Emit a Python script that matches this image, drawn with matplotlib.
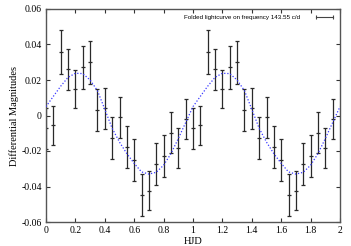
import numpy as np
import matplotlib
matplotlib.use("Agg")
import matplotlib.pyplot as plt
from matplotlib.lines import Line2D

# Folded phase (one cycle, shown twice)
phase = [0.00, 0.05, 0.10, 0.15, 0.20, 0.25, 0.30, 0.35, 0.40, 0.45,
         0.50, 0.55, 0.60, 0.65, 0.70, 0.75, 0.80, 0.85, 0.90, 0.95]
mag = [-0.0072, -0.0055, 0.0356, 0.0260, 0.0148, 0.0271, 0.0301, 0.0031, 0.0040, -0.0128,
       -0.0010, -0.0177, -0.0251, -0.0448, -0.0423, -0.0273, -0.0228, -0.0097, -0.0181, -0.0021]
err = [0.0116, 0.0109, 0.0124, 0.0115, 0.0107, 0.0120, 0.0121, 0.0119, 0.0116, 0.0118,
       0.0117, 0.0120, 0.0116, 0.0120, 0.0111, 0.0120, 0.0117, 0.0114, 0.0113, 0.0113]

# Fitted curve (one cycle)
fit_phase = [0.00, 0.05, 0.10, 0.15, 0.20, 0.25, 0.30, 0.35, 0.40, 0.45, 0.50,
             0.55, 0.60, 0.65, 0.70, 0.75, 0.80, 0.85, 0.90, 0.95, 1.00]
fit_mag = [0.0050, 0.0108, 0.0165, 0.0215, 0.0238, 0.0236, 0.0200, 0.0140, 0.0035, -0.0072, -0.0150,
           -0.0215, -0.0270, -0.0318, -0.0330, -0.0320, -0.0280, -0.0215, -0.0130, -0.0040, 0.0050]

xticks = [0, 0.2, 0.4, 0.6, 0.8, 1.0, 1.2, 1.4, 1.6, 1.8, 2.0]
xticklabels = ["0", "0.2", "0.4", "0.6", "0.8", "1", "1.2", "1.4", "1.6", "1.8", "2"]
yticks = [-0.06, -0.04, -0.02, 0, 0.02, 0.04, 0.06]
yticklabels = ["-0.06", "-0.04", "-0.02", "0", "0.02", "0.04", "0.06"]

legend_label = "Folded lightcurve on frequency 143.55 c/d"

fig = plt.figure(figsize=(3.51, 2.46), dpi=100)
ax = fig.add_axes([46/351, 1-222/246, (340-46)/351, (222-9)/246])

ph = np.array(phase)
x_all = np.concatenate([ph, ph + 1])
y_all = np.concatenate([mag, mag])
e_all = np.concatenate([err, err])

fp = np.array(fit_phase)
ax.plot(np.concatenate([fp, fp[1:] + 1]), np.concatenate([fit_mag, fit_mag[1:]]),
        linestyle=(0, (1, 1.5)), color="#3a3aff", lw=0.9, zorder=3)

ecol = "#2a2a2a"
ax.errorbar(x_all, y_all, yerr=e_all, fmt="_", color=ecol, ecolor=ecol,
            elinewidth=0.9, capsize=1.6, capthick=0.9, markersize=3.5, mew=0.9,
            zorder=2)

ax.set_xlim(0, 2)
ax.set_ylim(-0.06, 0.06)
ax.set_xticks(xticks)
ax.set_xticklabels(xticklabels)
ax.set_yticks(yticks)
ax.set_yticklabels(yticklabels)

serif = ["Liberation Serif", "DejaVu Serif"]
for lab in ax.get_xticklabels() + ax.get_yticklabels():
    lab.set_family(serif)
    lab.set_fontsize(7)
ax.tick_params(direction="in", length=3, width=0.8, top=True, right=True,
               color="#333333", pad=3)
for s in ax.spines.values():
    s.set_color("#555555")
    s.set_linewidth(1.0)

ax.set_xlabel("HJD", family=serif, fontsize=7.5, labelpad=1)
ax.set_ylabel("Differential Magnitudes", family=serif, fontsize=7.5, labelpad=2)

handle = Line2D([], [], color="#444444", lw=0.8, marker="|", markersize=3.5, mew=0.8)
leg = ax.legend([handle], [legend_label], loc="upper right", frameon=False,
                markerfirst=False, numpoints=2,
                prop={"family": ["Liberation Sans", "DejaVu Sans"], "size": 4.5},
                handlelength=3.3, borderaxespad=0.6, borderpad=0.3, handletextpad=2.1)

fig.savefig("out.png", dpi=100)
